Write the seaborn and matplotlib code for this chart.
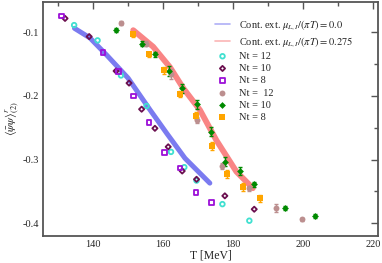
import numpy as np
import pandas as pd
import seaborn as sns
import matplotlib.pyplot as plt
from matplotlib.ticker import MultipleLocator

# continuum extrapolation bands (centre line)
band0_T = [134.7, 139.1, 143.9, 150.0, 156.3, 161.1, 166.3, 173.4]
band0_y = [-0.094, -0.109, -0.136, -0.172, -0.222, -0.259, -0.298, -0.337]
band1_T = [151.5, 157.2, 162.0, 165.8, 170.6, 175.3, 181.0, 185.7]
band1_y = [-0.097, -0.123, -0.155, -0.188, -0.2225, -0.270, -0.319, -0.345]

# mu = 0 lattice data
nt12_T = [134.6, 141.3, 148.0, 155.3, 162.3, 166.1, 169.6, 177.0, 184.7]
nt12_y = [-0.089, -0.113, -0.168, -0.216, -0.288, -0.312, -0.333, -0.370, -0.396]
nt10_T = [132.0, 138.9, 146.6, 150.3, 153.9, 157.7, 161.5, 165.5, 169.6, 177.7, 186.1]
nt10_y = [-0.0785, -0.107, -0.161, -0.180, -0.221, -0.251, -0.280, -0.318, -0.331, -0.357, -0.378]
nt8_T = [130.9, 142.9, 147.3, 151.5, 156.0, 160.4, 164.9, 169.4, 173.9]
nt8_y = [-0.0744, -0.132, -0.162, -0.200, -0.242, -0.289, -0.313, -0.352, -0.367]

# mu/(pi T) = 0.275 lattice data
mnt12_T = [148.1, 155.1, 162.3, 169.6, 177.0, 184.7, 192.3, 199.9]
mnt12_y = [-0.0863, -0.118, -0.166, -0.238, -0.310, -0.345, -0.376, -0.394]
mnt12_e = [0.003, 0.004, 0.008, 0.004, 0.005, 0.004, 0.006, 0.003]
mnt10_T = [146.5, 154.0, 157.8, 161.8, 165.5, 169.6, 173.6, 177.7, 182.0, 186.1, 194.9, 203.6]
mnt10_y = [-0.097, -0.118, -0.1345, -0.161, -0.188, -0.213, -0.2565, -0.3035, -0.318, -0.339, -0.376, -0.389]
mnt10_e = [0.003, 0.004, 0.004, 0.008, 0.007, 0.007, 0.007, 0.007, 0.006, 0.004, 0.003, 0.003]
mnt8_T = [151.5, 156.0, 160.4, 164.9, 169.4, 173.9, 178.4, 182.9, 187.7]
mnt8_y = [-0.1036, -0.1345, -0.160, -0.197, -0.231, -0.279, -0.323, -0.343, -0.361]
mnt8_e = [0.004, 0.004, 0.005, 0.005, 0.006, 0.006, 0.006, 0.006, 0.006]

sns.set_style("white")
plt.rcParams['font.family'] = ['Liberation Serif', 'DejaVu Serif']
plt.rcParams['mathtext.fontset'] = 'stix'
plt.rcParams['axes.unicode_minus'] = False

fig = plt.figure(figsize=(3.82, 2.63), dpi=100)
ax = fig.add_axes([0.1126, 0.1027, 0.877, 0.889])

sns.lineplot(x=band0_T, y=band0_y, ax=ax, color='#7b7bf0', lw=3.6, sort=False,
             label=r'Cont. ext. $\mu_{L,I}/(\pi T) = 0.0$')
sns.lineplot(x=band1_T, y=band1_y, ax=ax, color='#f98585', lw=4.2, sort=False,
             label=r'Cont. ext. $\mu_{L,I}/(\pi T) = 0.275$')

open_series = [
    (nt12_T, nt12_y, 'o', '#40e0d0', 'Nt = 12'),
    (nt10_T, nt10_y, 'D', '#6b0f4f', 'Nt = 10'),
    (nt8_T, nt8_y, 's', '#9c10d8', 'Nt = 8'),
]
for T, y, m, c, lab in open_series:
    sns.scatterplot(x=T, y=y, ax=ax, marker=m, s=11 if m != 'D' else 7,
                    facecolor='none', edgecolor=c, linewidth=1.3, label=lab, zorder=3)

filled_series = [
    (mnt12_T, mnt12_y, mnt12_e, 'o', '#bc8f8f', 'Nt =  12'),
    (mnt10_T, mnt10_y, mnt10_e, 'D', '#008a00', 'Nt = 10'),
    (mnt8_T, mnt8_y, mnt8_e, 's', '#ffa500', 'Nt = 8'),
]
for T, y, e, m, c, lab in filled_series:
    ax.errorbar(T, y, yerr=e, fmt='none', ecolor=c, elinewidth=1, capsize=1.5, zorder=3)
    sns.scatterplot(x=T, y=y, ax=ax, marker=m, s=18 if m != 'D' else 12,
                    color=c, edgecolor=c, linewidth=0, label=lab, zorder=4)

ax.set_xlim(125.7, 221.5)
ax.set_ylim(-0.42, -0.053)
ax.xaxis.set_major_locator(MultipleLocator(20))
ax.xaxis.set_minor_locator(MultipleLocator(10))
ax.yaxis.set_major_locator(MultipleLocator(0.1))
ax.yaxis.set_minor_locator(MultipleLocator(0.05))
ax.tick_params(which='both', direction='in', top=True, right=True, color='#555555',
               labelsize=7.5, width=1, pad=3)
ax.tick_params(which='major', length=5)
ax.tick_params(which='minor', length=3)
for s in ax.spines.values():
    s.set_color('#555555')
    s.set_linewidth(1.3)

ax.set_xlabel('T [MeV]', fontsize=8.5, labelpad=0)
ax.set_ylabel(r'$\langle\bar{\psi}\psi\rangle^r_{(2)}$', fontsize=8.5, labelpad=2)

leg = ax.legend(loc='upper left', bbox_to_anchor=(0.5, 0.95), frameon=False,
                fontsize=7.5, handlelength=1.5, handletextpad=0.8,
                labelspacing=0.28, borderaxespad=0)
for line in leg.get_lines():
    line.set_linewidth(1.2)
    line.set_alpha(0.6)

fig.savefig('out.png', dpi=100)
